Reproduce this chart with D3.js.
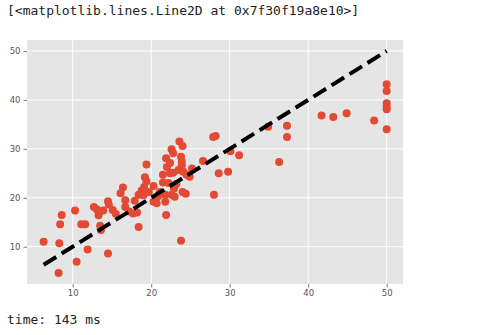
<!DOCTYPE html>
<html>
<head>
<meta charset="utf-8">
<script src="https://cdn.jsdelivr.net/npm/d3@7"></script>
<style>
  html, body { margin: 0; padding: 0; background: #fff; }
  svg { display: block; }
</style>
</head>
<body>
<script>
// ---- data ----
const headerText = "[<matplotlib.lines.Line2D at 0x7f30f19a8e10>]";
const footerText = "time: 143 ms";
const xTicks = [10, 20, 30, 40, 50];
const yTicks = [10, 20, 30, 40, 50];
const actual = [
  6.3, 8.3, 8.2, 8.4, 8.6, 10.3, 10.5, 11.1, 11.6, 11.9,
  12.7, 13.1, 13.3, 13.5, 13.6, 13.9, 14.5, 14.5, 14.6, 15.1,
  15.5, 16.1, 16.4, 16.7, 16.7, 17.2, 17.7, 18.2, 18.4, 17.9,
  18.4, 18.8, 19.1, 19.4, 19.2, 19.4, 19.7, 19.0, 20.3, 20.3,
  20.7, 20.9, 21.1, 21.9, 21.8, 21.8, 22.6, 21.5, 21.5, 22.2,
  22.0, 21.9, 22.4, 22.6, 22.8, 23.6, 24.0, 23.8, 23.9, 23.9,
  22.4, 22.8, 23.5, 24.1, 24.5, 24.9, 25.2, 23.2, 22.9, 23.0,
  24.0, 24.4, 23.8, 26.6, 27.9, 28.2, 28.0, 28.6, 29.8, 30.1,
  31.2, 34.9, 36.3, 37.3, 37.3, 41.7, 43.2, 44.9, 48.4, 50,
  50, 50, 50, 50, 50
];
const predicted = [
  11.0, 10.7, 4.6, 14.6, 16.5, 17.4, 6.9, 14.6, 14.6, 9.4,
  18.1, 17.6, 16.4, 14.3, 13.4, 17.4, 8.6, 19.3, 18.6, 17.5,
  16.7, 20.9, 22.1, 19.5, 18.1, 17.2, 16.8, 17.0, 14.0, 19.4,
  20.6, 21.5, 22.2, 26.8, 24.2, 23.4, 21.2, 20.5, 22.4, 19.2,
  18.9, 20.3, 21.2, 16.5, 20.6, 19.2, 20.6, 24.7, 23.1, 23.0,
  26.3, 28.1, 27.1, 29.9, 29.1, 31.5, 30.6, 28.4, 27.4, 26.6,
  25.0, 25.1, 25.7, 25.3, 24.7, 24.3, 26.0, 22.8, 21.9, 20.2,
  21.2, 20.8, 11.2, 27.5, 32.4, 32.6, 20.6, 25.0, 25.3, 29.5,
  28.7, 34.5, 27.3, 34.7, 32.4, 36.8, 36.5, 37.3, 35.8, 43.2,
  41.8, 39.3, 38.6, 38.1, 34.0
];
const lineX = [6.3, 50];
const lineY = [6.3, 50];

// ---- layout ----
const W = 488, H = 335;
const plot = { left: 27, right: 403, top: 40, bottom: 284 };

const svg = d3.select("body").append("svg")
  .attr("width", W).attr("height", H);

svg.append("rect").attr("width", W).attr("height", H).attr("fill", "#fff");

// header / footer text
svg.append("text")
  .attr("x", 7).attr("y", 15)
  .attr("font-family", "DejaVu Sans Mono, monospace")
  .attr("font-size", 13)
  .attr("fill", "#222")
  .text(headerText);

svg.append("text")
  .attr("x", 7).attr("y", 324)
  .attr("font-family", "DejaVu Sans Mono, monospace")
  .attr("font-size", 13)
  .attr("fill", "#222")
  .text(footerText);

const x = d3.scaleLinear().domain([4.18, 52.08]).range([plot.left, plot.right]);
const y = d3.scaleLinear().domain([2.37, 52.25]).range([plot.bottom, plot.top]);

// background
svg.append("rect")
  .attr("x", plot.left).attr("y", plot.top)
  .attr("width", plot.right - plot.left).attr("height", plot.bottom - plot.top)
  .attr("fill", "#E5E5E5");

// grid
const grid = svg.append("g").attr("stroke", "#fff").attr("stroke-width", 1);
grid.selectAll("line.vx").data(xTicks).join("line")
  .attr("x1", d => x(d)).attr("x2", d => x(d))
  .attr("y1", plot.top).attr("y2", plot.bottom);
grid.selectAll("line.hy").data(yTicks).join("line")
  .attr("x1", plot.left).attr("x2", plot.right)
  .attr("y1", d => y(d)).attr("y2", d => y(d));

// axes
const xAxis = d3.axisBottom(x).tickValues(xTicks).tickSize(3.5).tickPadding(2);
const yAxis = d3.axisLeft(y).tickValues(yTicks).tickSize(3.5).tickPadding(3);

const gx = svg.append("g").attr("transform", `translate(0,${plot.bottom})`).call(xAxis);
const gy = svg.append("g").attr("transform", `translate(${plot.left},0)`).call(yAxis);
[gx, gy].forEach(g => {
  g.select(".domain").remove();
  g.selectAll(".tick line").attr("stroke", "#555").attr("stroke-width", 0.8);
  g.selectAll(".tick text")
    .attr("fill", "#555")
    .attr("font-family", "DejaVu Sans, sans-serif")
    .attr("font-size", 8.5);
});

// points
const pts = actual.map((a, i) => [a, predicted[i]]);
svg.append("g").selectAll("circle").data(pts).join("circle")
  .attr("cx", d => x(d[0])).attr("cy", d => y(d[1]))
  .attr("r", 4)
  .attr("fill", "#E24A33");

// dashed line
const line = d3.line().x(d => x(d[0])).y(d => y(d[1]));
svg.append("path")
  .datum(lineX.map((v, i) => [v, lineY[i]]))
  .attr("d", line)
  .attr("fill", "none")
  .attr("stroke", "#000")
  .attr("stroke-width", 4)
  .attr("stroke-dasharray", "14.8,6.4");
</script>
</body>
</html>
